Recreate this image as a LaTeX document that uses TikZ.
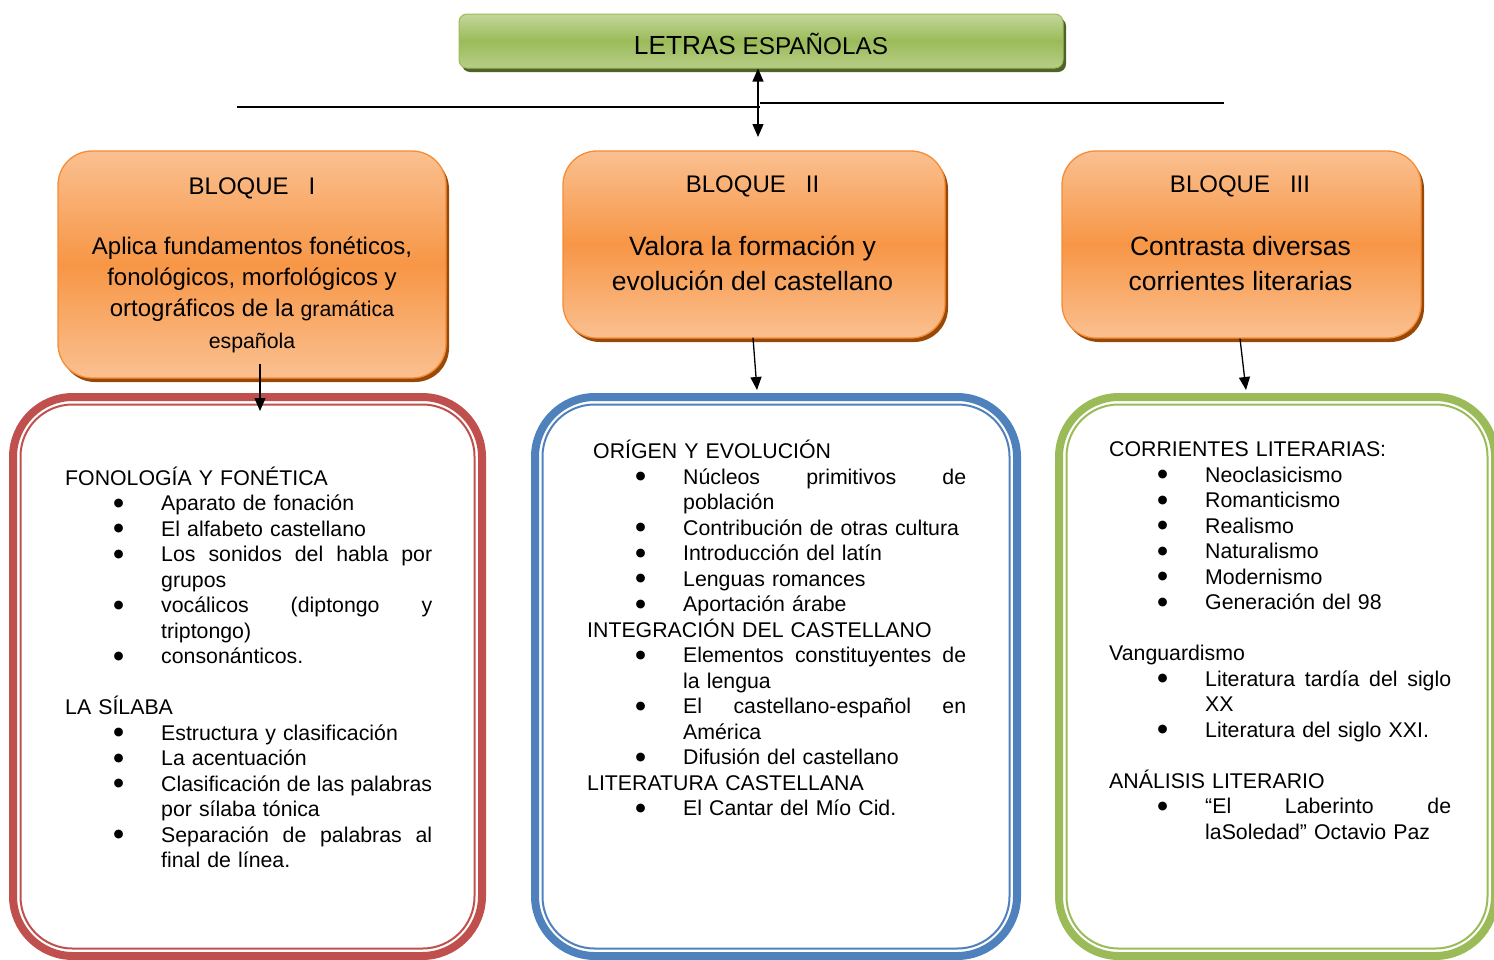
\documentclass[tikz,border=0pt]{standalone}
\usepackage{fontspec}
\setmainfont{Liberation Sans}
\newfontfamily\bulfont{DejaVu Sans}
\usetikzlibrary{arrows.meta,shadows}
\definecolor{redf}{HTML}{C0504D}
\definecolor{bluef}{HTML}{4F81BD}
\definecolor{greenf}{HTML}{9BBB59}
\definecolor{orlight}{HTML}{FAC090}
\definecolor{ormid}{HTML}{F79646}
\definecolor{orborder}{HTML}{F68C36}
\definecolor{orshadow}{HTML}{984807}
\definecolor{grlight}{HTML}{C3D69B}
\definecolor{grshadow}{HTML}{4F6228}
\newcommand\bul[1]{\leavevmode\hbox to 96pt{\hskip 48.5pt\raisebox{4.5pt}{\bulfont\fontsize{11.5}{12}\selectfont ●}\hfil}#1}
\newcommand\ind[1]{\leavevmode\hbox to 96pt{\hfil}#1}
\newcommand\jus[2]{\hbox to #1{\spaceskip=\fontdimen2\font plus 1fil\relax #2}}
\begin{document}
\begin{tikzpicture}[x=1pt,y=-1pt,
  obox/.style={draw=orborder, line width=1.3pt, rounded corners=34pt, inner sep=0pt,
    top color=orlight, bottom color=orlight, middle color=ormid,
    drop shadow={shadow xshift=3pt, shadow yshift=-4pt, fill=orshadow, opacity=1}},
  tbox/.style={draw=greenf, line width=1pt, rounded corners=8pt, inner sep=0pt,
    top color=grlight, bottom color=grlight!70!greenf, middle color=greenf,
    drop shadow={shadow xshift=3pt, shadow yshift=-4pt, fill=grshadow, opacity=1}},
  fout/.style={draw=#1, line width=8pt, rounded corners=60pt, inner sep=0pt, outer sep=0pt},
  fin/.style={draw=#1, line width=2pt, rounded corners=52pt, inner sep=0pt, outer sep=0pt},
  otext/.style={align=center, inner sep=0pt},
  ctext/.style={anchor=north west, inner sep=0pt, text width=400pt, align=left,
    font=\fontsize{21.3}{25.5}\selectfont},
  arr/.style={line width=1.3pt, -{Triangle[length=13pt,width=11pt]}},
  darr/.style={line width=1.3pt, {Triangle[length=13pt,width=11pt]}-{Triangle[length=13pt,width=11pt]}},
  hline/.style={line width=1.4pt}
]
\clip (0,0) rectangle (1494,959);

% title
\node[tbox, minimum width=604pt, minimum height=54pt] (t) at (761,41) {};
\node[inner sep=0pt, font=\fontsize{24.3}{30}\selectfont] (tt) at (761,44) {{\fontsize{26.2}{30}\selectfont LETRAS} ESPAÑOLAS};

% horizontal lines and central arrow
\coordinate (l1a) at (237,107);
\coordinate (l1b) at (760,107);
\coordinate (l2a) at (760,103);
\coordinate (l2b) at (1224,103);
\draw[hline] (l1a) -- (l1b);
\draw[hline] (l2a) -- (l2b);
\coordinate (tarr) at (758,137);
\draw[darr] ([xshift=-3pt]t.south) -- (tarr);

% orange boxes
\node[obox, minimum width=388pt, minimum height=227pt] (b1) at (252,264.5) {};
\node[obox, minimum width=382pt, minimum height=187pt] (b2) at (754,244.5) {};
\node[obox, minimum width=359pt, minimum height=187pt] (b3) at (1241.5,244.5) {};

\node[otext, font=\fontsize{24}{30}\selectfont] (b1l) at (252,188) {BLOQUE\hspace{20pt}I};
\node[otext, font=\fontsize{24}{30}\selectfont] (b2l) at (752.5,186) {BLOQUE\hspace{20pt}II};
\node[otext, font=\fontsize{24}{30}\selectfont] (b3l) at (1240,186) {BLOQUE\hspace{20pt}III};

\node[otext, font=\fontsize{24}{31.3}\selectfont] (b1d) at (252,294.5)
  {Aplica fundamentos fonéticos,\\ fonológicos, morfológicos y\\ ortográficos de la {\fontsize{21.3}{31.3}\selectfont gramática}\\ {\fontsize{21.3}{31.3}\selectfont española}};
\node[otext, font=\fontsize{26.5}{35}\selectfont] (b2d) at (752.5,263.5)
  {Valora la formación y\\ evolución del castellano};
\node[otext, font=\fontsize{26.5}{35}\selectfont] (b3d) at (1240.5,263.5)
  {Contrasta diversas\\ corrientes literarias};

% framed boxes
\node[fout=redf, minimum width=469pt, minimum height=559pt] (f1) at (247.5,676.5) {};
\node[fin=redf, minimum width=454pt, minimum height=544pt] (f1i) at (247.5,676.5) {};
\node[fout=bluef, minimum width=482pt, minimum height=559pt] (f2) at (776,676.5) {};
\node[fin=bluef, minimum width=467pt, minimum height=544pt] (f2i) at (776,676.5) {};
\node[fout=greenf, minimum width=436pt, minimum height=559pt] (f3) at (1277,676.5) {};
\node[fin=greenf, minimum width=421pt, minimum height=544pt] (f3i) at (1277,676.5) {};

% connectors
\draw[arr] ([xshift=8pt,yshift=15pt]b1.south) -- ([xshift=12.5pt,yshift=-14pt]f1.north);
\draw[arr] ([xshift=-1pt,yshift=1pt]b2.south) -- ([xshift=-19pt,yshift=7pt]f2.north);
\draw[arr] ([xshift=-1.5pt]b3.south) -- ([xshift=-31pt,yshift=7pt]f3.north);

% contents
\node[ctext] (c1) at (65,463) {\rule{0pt}{22pt}FONOLOGÍA Y FONÉTICA\\
\bul{Aparato de fonación}\\
\bul{El alfabeto castellano}\\
\bul{\jus{271pt}{Los sonidos del habla por}}\\
\ind{grupos}\\
\bul{\jus{271pt}{vocálicos (diptongo y}}\\
\ind{triptongo)}\\
\bul{consonánticos.}\\
\mbox{}\\
LA SÍLABA\\
\bul{Estructura y clasificación}\\
\bul{La acentuación}\\
\bul{\jus{271pt}{Clasificación de las palabras}}\\
\ind{por sílaba tónica}\\
\bul{\jus{271pt}{Separación de palabras al}}\\
\ind{final de línea.}};

\node[ctext] (c2) at (587,436.5) {\rule{0pt}{22pt}\hspace*{6pt}ORÍGEN Y EVOLUCIÓN\\
\bul{\jus{283pt}{Núcleos primitivos de}}\\
\ind{población}\\
\bul{Contribución de otras cultura}\\
\bul{Introducción del latín}\\
\bul{Lenguas romances}\\
\bul{Aportación árabe}\\
INTEGRACIÓN DEL CASTELLANO\\
\bul{\jus{283pt}{Elementos constituyentes de}}\\
\ind{la lengua}\\
\bul{\jus{283pt}{El castellano-español en}}\\
\ind{América}\\
\bul{Difusión del castellano}\\
LITERATURA CASTELLANA\\
\bul{El Cantar del Mío Cid.}};

\node[ctext] (c3) at (1109,434.5) {\rule{0pt}{22pt}CORRIENTES LITERARIAS:\\
\bul{Neoclasicismo}\\
\bul{Romanticismo}\\
\bul{Realismo}\\
\bul{Naturalismo}\\
\bul{Modernismo}\\
\bul{Generación del 98}\\
\mbox{}\\
Vanguardismo\\
\bul{\jus{246pt}{Literatura tardía del siglo}}\\
\ind{XX}\\
\bul{Literatura del siglo XXI.}\\
\mbox{}\\
ANÁLISIS LITERARIO\\
\bul{\jus{246pt}{“El Laberinto de}}\\
\ind{laSoledad” Octavio Paz}};
\end{tikzpicture}
\end{document}
